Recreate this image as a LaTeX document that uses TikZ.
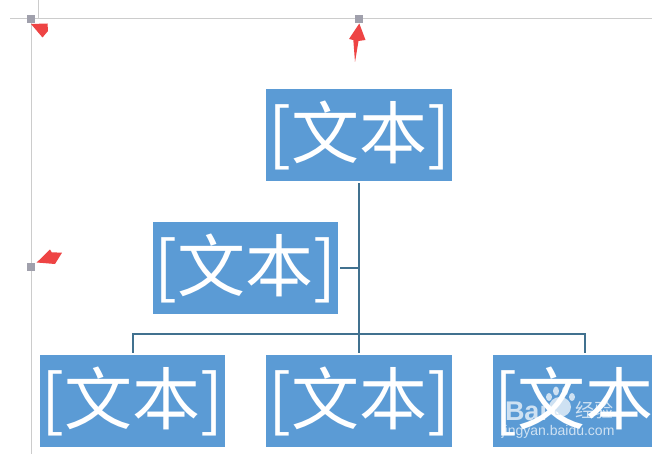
\documentclass[tikz,border=0pt]{standalone}
\usepackage{fontspec}
\setmainfont{Liberation Sans}
\newfontfamily\cjk{Noto Sans CJK SC}
\definecolor{boxblue}{HTML}{5B9BD5}
\definecolor{linkc}{HTML}{41718F}
\definecolor{guide}{HTML}{CCCCCC}
\definecolor{handle}{HTML}{A0A0AC}
\definecolor{mark}{HTML}{EE4444}
\tikzset{
  orgbox/.style={fill=boxblue,text=white,minimum width=186pt,minimum height=92pt,inner sep=0pt,font=\cjk\fontsize{68}{68}\selectfont},
  narrowbox/.style={orgbox,minimum width=185pt},
  link/.style={draw=linkc,line width=2pt},
  guideline/.style={draw=guide,line width=1pt},
  handlebox/.style={fill=handle,minimum size=8.5pt,inner sep=0pt},
  pointer/.style={fill=mark},
  wm/.style={text=white,opacity=0.7,inner sep=0pt}
}
\begin{document}
\begin{tikzpicture}[x=1pt,y=-1pt]
\useasboundingbox (0,0) rectangle (652,454);
\clip (0,0) rectangle (652,454);
\fill[white] (0,0) rectangle (652,454);
% guides
\coordinate (g1) at (10,18.5); \coordinate (g2) at (652,18.5);
\coordinate (g3) at (31,19); \coordinate (g4) at (31,454);
\coordinate (g5) at (38,0);  \coordinate (g6) at (38,19);
\draw[guideline] (g1) -- (g2);
\draw[guideline] (g3) -- (g4);
\draw[guideline] (g5) -- (g6);
\node[handlebox] (h1) at (31,19) {};
\node[handlebox] (h2) at (359,19) {};
\node[handlebox] (h3) at (31,267) {};
% red pointers
\fill[pointer] (31,24) -- (47.5,23.5) -- (48,31) -- (42.5,37.5) -- cycle;
\fill[pointer] (359.3,23.5) -- (365.5,40) -- (358.5,41) -- (355,62) -- (353.3,40) -- (349,39) -- cycle;
\fill[pointer] (36.7,262.5) -- (50,249.5) -- (51.7,252.3) -- (62,252.7) -- (55,264) -- cycle;
% boxes
\node[orgbox] (top) at (359,135) {[文本]};
\node[narrowbox] (left) at (245.5,268) {[文本]};
\node[narrowbox] (c1) at (132.5,401) {[文本]};
\node[orgbox] (c2) at (359,401) {[文本]};
\node[orgbox,minimum width=184pt] (c3) at (585,401) {[文本]};
% connectors
\coordinate (bus) at (359,334);
\coordinate (lj) at (359,268);
\draw[link,shorten <=2pt] (top.south) -- (bus);
\draw[link,shorten <=2pt] (left.east) -- (lj);
\draw[link,shorten <=2pt] (c1.north) |- (bus);
\draw[link,shorten <=2pt] (c3.north) |- (bus);
\draw[link,shorten <=2pt] (c2.north) -- (bus);
% watermark
\node[wm,font=\bfseries\fontsize{27}{27}\selectfont] (wb) at (526,411) {Bai};
\node[wm,font=\bfseries\fontsize{11}{11}\selectfont,text=boxblue] (wd) at (561,412) {du};
\node[wm,font=\cjk\fontsize{19}{19}\selectfont] (wj) at (594,410) {经验};
\node[wm,font=\fontsize{14}{14}\selectfont] (wu) at (558,432) {jingyan.baidu.com};
\fill[white,opacity=0.7] (560,407) ellipse (11pt and 10pt);
\fill[white,opacity=0.7] (549,397) ellipse (3pt and 4pt);
\fill[white,opacity=0.7] (556,391) ellipse (3pt and 4.5pt);
\fill[white,opacity=0.7] (565,391) ellipse (3pt and 4.5pt);
\fill[white,opacity=0.7] (572,397) ellipse (3pt and 4pt);
\end{tikzpicture}
\end{document}
